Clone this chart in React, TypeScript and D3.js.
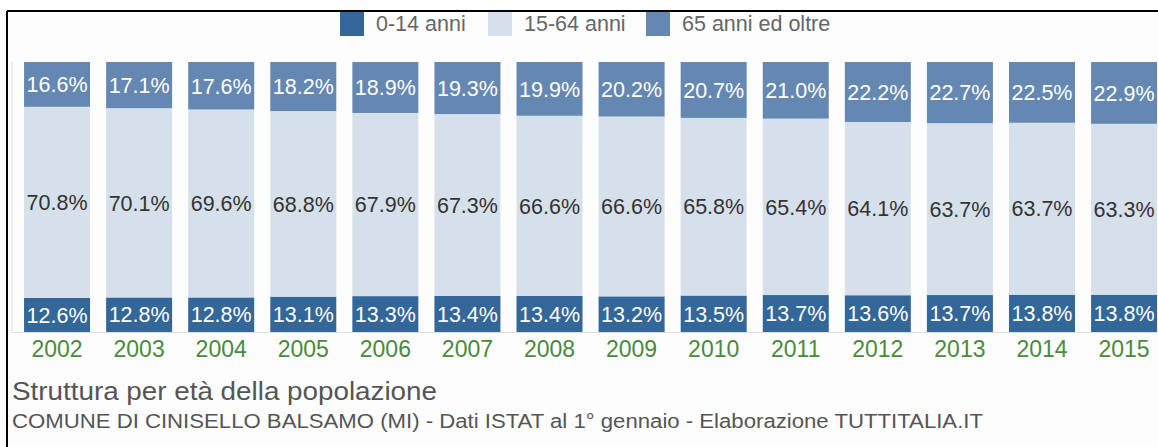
import React from "react";
import * as d3 from "d3";

const years = ["2002","2003","2004","2005","2006","2007","2008","2009","2010","2011","2012","2013","2014","2015"];
const young = [12.6,12.8,12.8,13.1,13.3,13.4,13.4,13.2,13.5,13.7,13.6,13.7,13.8,13.8];
const working = [70.8,70.1,69.6,68.8,67.9,67.3,66.6,66.6,65.8,65.4,64.1,63.7,63.7,63.3];
const old = [16.6,17.1,17.6,18.2,18.9,19.3,19.9,20.2,20.7,21.0,22.2,22.7,22.5,22.9];
const seriesKeys = ["0-14 anni", "15-64 anni", "65 anni ed oltre"];
const seriesColors = ["#336699", "#d6e0ea", "#6488b2"];
const labelColors = ["#ffffff", "#333333", "#ffffff"];
const title = "Struttura per età della popolazione";
const subtitle = "COMUNE DI CINISELLO BALSAMO (MI) - Dati ISTAT al 1° gennaio - Elaborazione TUTTITALIA.IT";

const W = 1158, H = 447;
const FONT = "'Liberation Sans', Arial, Helvetica, sans-serif";

export default function App() {
  const rows = years.map((y, i) => ({ year: y, "0-14 anni": young[i], "15-64 anni": working[i], "65 anni ed oltre": old[i] }));
  const stack = d3.stack<any>().keys(seriesKeys).offset(d3.stackOffsetExpand);
  const layers = stack(rows);
  const x = d3.scaleBand<string>().domain(years).range([16, 16 + 14 * 82.08]).paddingInner(0.196).paddingOuter(0.098);
  const y = d3.scaleLinear().domain([0, 1]).range([332, 62]);
  const raw = [young, working, old];

  return (
    <svg width={W} height={H} style={{ position: "absolute", left: 0, top: 0, fontFamily: FONT }}>
      <rect x={0} y={0} width={W} height={H} fill="#ffffff" />
      <rect x={7} y={11} width={W} height={H} fill="#fdfdfd" />
      <line x1={7} y1={11} x2={W} y2={11} stroke="#000" strokeWidth={2} />
      <line x1={7} y1={11} x2={7} y2={H} stroke="#000" strokeWidth={2} />
      {/* legend */}
      {seriesKeys.map((k, i) => {
        const lx = [340, 488, 646][i];
        return (
          <g key={k}>
            <rect x={lx} y={12} width={24} height={24} fill={seriesColors[i]} />
            <text x={lx + 36} y={31} fontSize={21.5} fill="#666">{k}</text>
          </g>
        );
      })}
      {/* axes lines */}
      <line x1={12} y1={62} x2={12} y2={333} stroke="#dddddd" strokeWidth={1} />
      <line x1={12} y1={332.5} x2={W} y2={332.5} stroke="#dddddd" strokeWidth={1} />
      {layers.map((layer, li) => (
        <g key={layer.key}>
          {layer.map((d, i) => {
            const bx = x(years[i])!;
            const y0 = y(d[0]);
            const y1 = y(d[1]);
            return (
              <g key={i}>
                <rect x={bx} y={y1} width={x.bandwidth()} height={y0 - y1} fill={seriesColors[li]} />
                <text x={bx + x.bandwidth() / 2} y={(y0 + y1) / 2} dy="0.36em" textAnchor="middle" fontSize={21.5} fill={labelColors[li]}>
                  {raw[li][i].toFixed(1)}%
                </text>
              </g>
            );
          })}
        </g>
      ))}
      {years.map((yr) => (
        <text key={yr} x={x(yr)! + x.bandwidth() / 2} y={357} textAnchor="middle" fontSize={23} fill="#4a8a3c">{yr}</text>
      ))}
      <text x={12} y={400} fontSize={25} fill="#555" textLength={425} lengthAdjust="spacingAndGlyphs">{title}</text>
      <text x={12} y={428} fontSize={19.5} fill="#555" textLength={971} lengthAdjust="spacingAndGlyphs">{subtitle}</text>
    </svg>
  );
}
